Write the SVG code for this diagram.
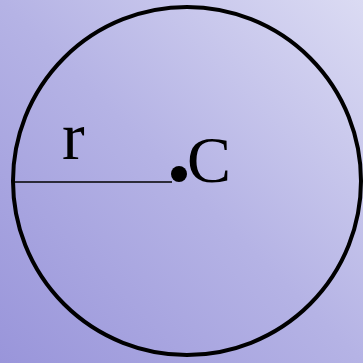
<svg xmlns="http://www.w3.org/2000/svg" width="363" height="363" viewBox="0 0 363 363">
<defs>
<linearGradient id="bg" x1="0" y1="363" x2="363" y2="0" gradientUnits="userSpaceOnUse">
<stop offset="0" stop-color="#9995da"/>
<stop offset="0.5" stop-color="#b5b3e5"/>
<stop offset="1" stop-color="#dbdbf3"/>
</linearGradient>
</defs>
<style>
.lbl{font-family:"Liberation Serif","Times New Roman",serif;fill:#000}
</style>
<rect width="363" height="363" fill="url(#bg)"/>
<g id="circle">
<circle cx="187" cy="181" r="174" fill="none" stroke="#000" stroke-width="4"/>
</g>
<g id="connectors">
<line x1="13" y1="182" x2="172" y2="182" stroke="#000" stroke-width="1.6"/>
</g>
<g id="center">
<circle cx="179" cy="174" r="8" fill="#000"/>
<text class="lbl" x="187" y="182" font-size="66">C</text>
</g>
<g id="radius-label">
<text class="lbl" x="62" y="159" font-size="68">r</text>
</g>
</svg>
